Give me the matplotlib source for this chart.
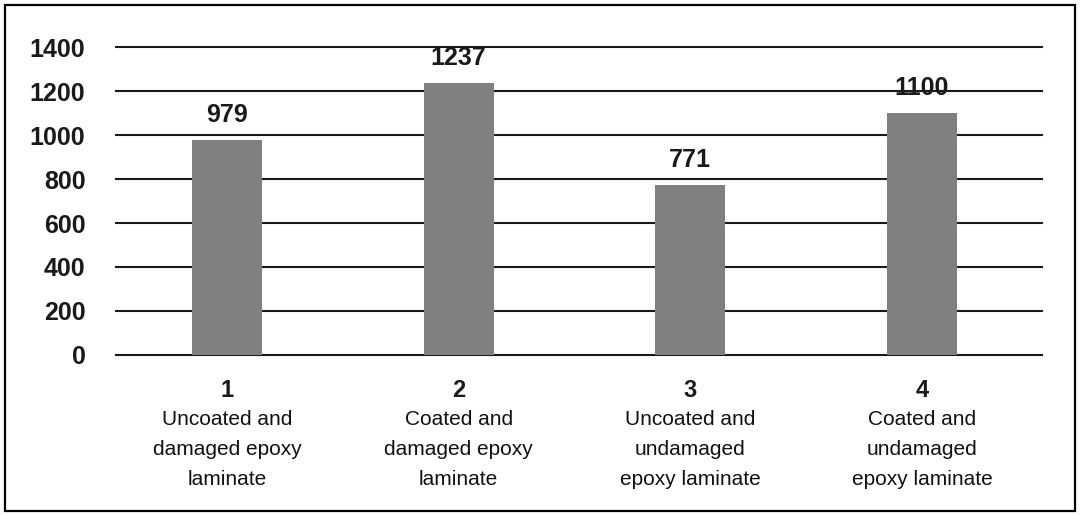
import matplotlib.pyplot as plt
from matplotlib.patches import Rectangle

plt.rcParams['font.family'] = ['Liberation Sans', 'DejaVu Sans']

# sample groups and the measured values
groups = ['1', '2', '3', '4']
descriptions = [
    'Uncoated and\ndamaged epoxy\nlaminate',
    'Coated and\ndamaged epoxy\nlaminate',
    'Uncoated and\nundamaged\nepoxy laminate',
    'Coated and\nundamaged\nepoxy laminate',
]
values = [979, 1237, 771, 1100]
yticks = [0, 200, 400, 600, 800, 1000, 1200, 1400]

fig = plt.figure(figsize=(10.81, 5.15), dpi=100)
ax = fig.add_axes([0.1073, 0.3107, 0.8566, 0.598])

# black horizontal lines at every tick, drawn behind the bars
for t in yticks:
    ax.axhline(t, color='#1a1a1a', lw=1.5, zorder=0, clip_on=False)

x = list(range(len(groups)))
bars = ax.bar(x, values, width=0.302, color='#808080', zorder=2)

for xi, v in zip(x, values):
    ax.annotate(str(v), (xi, v), xytext=(0, 18), textcoords='offset points',
                ha='center', va='center', fontsize=18, fontweight='bold',
                color='#1a1a1a', zorder=3)

ax.set_xlim(-0.479, 3.518)
ax.set_ylim(0, 1400)
ax.set_yticks(yticks)
ax.set_yticklabels([str(t) for t in yticks], fontsize=18, fontweight='bold',
                   color='#1a1a1a')
ax.set_xticks(x)
ax.set_xticklabels(groups, fontsize=17, fontweight='bold', color='#1a1a1a')
ax.tick_params(axis='y', length=0, pad=22)
ax.tick_params(axis='x', length=0, pad=17)
for s in ax.spines.values():
    s.set_visible(False)

for xi, d in zip(x, descriptions):
    ax.text(xi, -0.18, d, transform=ax.get_xaxis_transform(), ha='center',
            va='top', fontsize=15, linespacing=1.72, color='#111111')

# thin black frame around the whole figure
fig.patches.append(Rectangle((5 / 1081, 4 / 515), 1070 / 1081, 506 / 515,
                             transform=fig.transFigure, fill=False,
                             edgecolor='black', lw=1.6))

fig.savefig('out.png', dpi=100)
